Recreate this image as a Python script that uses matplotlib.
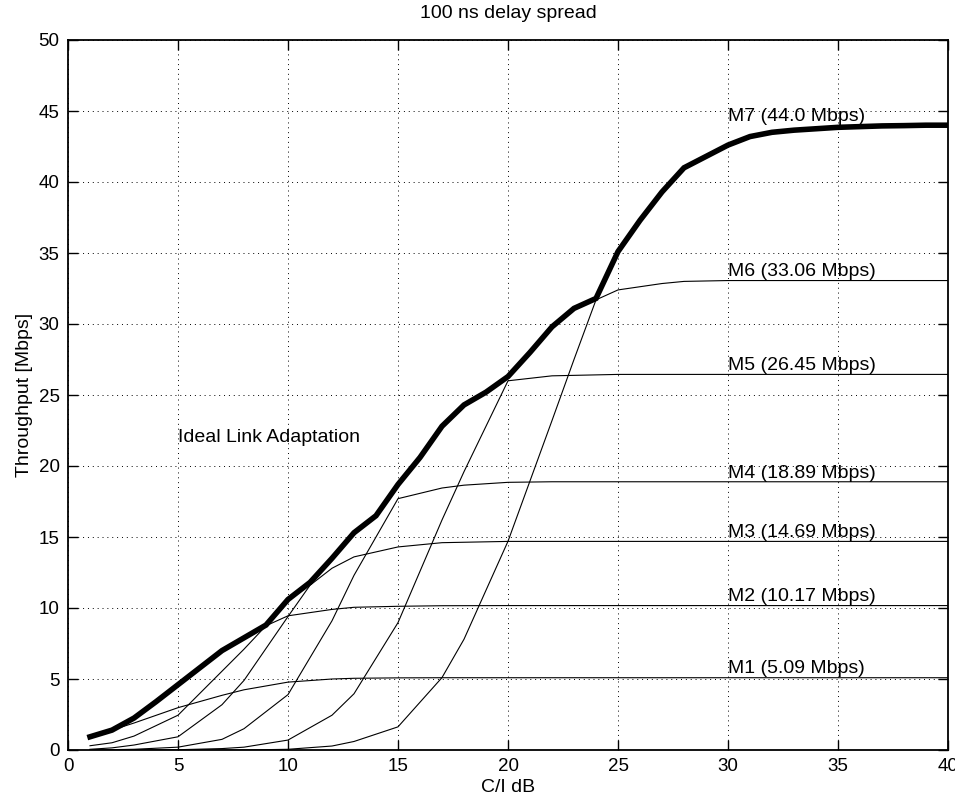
import numpy as np
import matplotlib
matplotlib.use('Agg')
import matplotlib.pyplot as plt

plt.rcParams['font.family'] = ['Liberation Sans', 'DejaVu Sans']

# Ideal link adaptation (thick envelope), read every 1 dB
ideal_x = list(range(1, 41))
ideal_y = [0.93, 1.4, 2.25, 3.4, 4.6, 5.8, 7.0, 7.9, 8.8, 10.6,
           11.8, 13.5, 15.3, 16.5, 18.7, 20.6, 22.8, 24.3, 25.2, 26.3,
           28.0, 29.8, 31.1, 31.8, 35.1, 37.3, 39.3, 41.0, 41.8, 42.6,
           43.2, 43.5, 43.65, 43.75, 43.85, 43.9, 43.95, 43.97, 44.0, 44.0]

# single modes
m1_x = [1, 2, 3, 5, 7, 8, 10, 12, 13, 15, 17, 20, 40]
m1_y = [0.93, 1.4, 1.9, 2.98, 3.85, 4.24, 4.78, 5.0, 5.05, 5.08, 5.09, 5.09, 5.09]
m2_x = [1, 2, 3, 5, 7, 8, 9, 10, 12, 13, 15, 17, 20, 40]
m2_y = [0.3, 0.51, 0.98, 2.45, 5.55, 7.1, 8.75, 9.45, 9.9, 10.05, 10.12, 10.16, 10.17, 10.17]
m3_x = [1, 2, 3, 5, 7, 8, 10, 11, 12, 13, 15, 17, 20, 40]
m3_y = [0.05, 0.15, 0.35, 0.93, 3.19, 4.9, 9.4, 11.6, 12.8, 13.6, 14.3, 14.6, 14.69, 14.69]
m4_x = [1, 3, 5, 7, 8, 10, 12, 13, 15, 17, 18, 20, 22, 40]
m4_y = [0.0, 0.05, 0.2, 0.75, 1.5, 3.9, 9.1, 12.3, 17.7, 18.45, 18.65, 18.85, 18.89, 18.89]
m5_x = [1, 5, 7, 8, 10, 12, 13, 15, 17, 18, 20, 22, 25, 40]
m5_y = [0.0, 0.02, 0.1, 0.2, 0.7, 2.45, 3.96, 8.97, 16.2, 19.6, 26.0, 26.35, 26.45, 26.45]
m6_x = [1, 8, 10, 12, 13, 15, 17, 18, 20, 22, 23, 24, 25, 27, 28, 30, 40]
m6_y = [0.0, 0.0, 0.05, 0.28, 0.6, 1.63, 5.1, 7.8, 14.7, 23.2, 27.5, 31.7, 32.4, 32.85, 33.0, 33.06, 33.06]

mode_names = ['M1', 'M2', 'M3', 'M4', 'M5', 'M6', 'M7']
mode_rates = [5.09, 10.17, 14.69, 18.89, 26.45, 33.06, 44.0]

fig = plt.figure(figsize=(9.55, 8), dpi=100)
ax = fig.add_axes([68/955, 50/800, 880/955, 710/800])

# thin curves
for xs, ys in [(m1_x, m1_y), (m2_x, m2_y), (m3_x, m3_y),
               (m4_x, m4_y), (m5_x, m5_y), (m6_x, m6_y)]:
    ax.plot(xs, ys, color='black', linewidth=0.8)

# thick envelope
ax.plot(ideal_x, ideal_y, color='black', linewidth=4, solid_joinstyle='miter')

# labels at 30 dB
for name, rate in zip(mode_names, mode_rates):
    ax.text(30, rate + 0.3, name + ' (' + str(rate) + ' Mbps)', fontsize=14,
            va='baseline', ha='left')

ax.text(5, 22, 'Ideal Link Adaptation', fontsize=14, va='center', ha='left')

ax.set_xlim(0, 40)
ax.set_ylim(0, 50)
ax.set_xticks(np.arange(0, 41, 5))
ax.set_yticks(np.arange(0, 51, 5))
ax.grid(True, color='black', linestyle=(0, (1, 4)), linewidth=0.7)
ax.tick_params(direction='in', top=True, right=True, length=7, width=1,
               labelsize=13.5, pad=6)
for s in ax.spines.values():
    s.set_linewidth(1.3)

ax.set_title('100 ns delay spread', fontsize=14, pad=16)
ax.set_xlabel('C/I dB', fontsize=14, labelpad=3)
ax.set_ylabel('Throughput [Mbps]', fontsize=14, labelpad=4)

plt.savefig('out.png', dpi=100)
